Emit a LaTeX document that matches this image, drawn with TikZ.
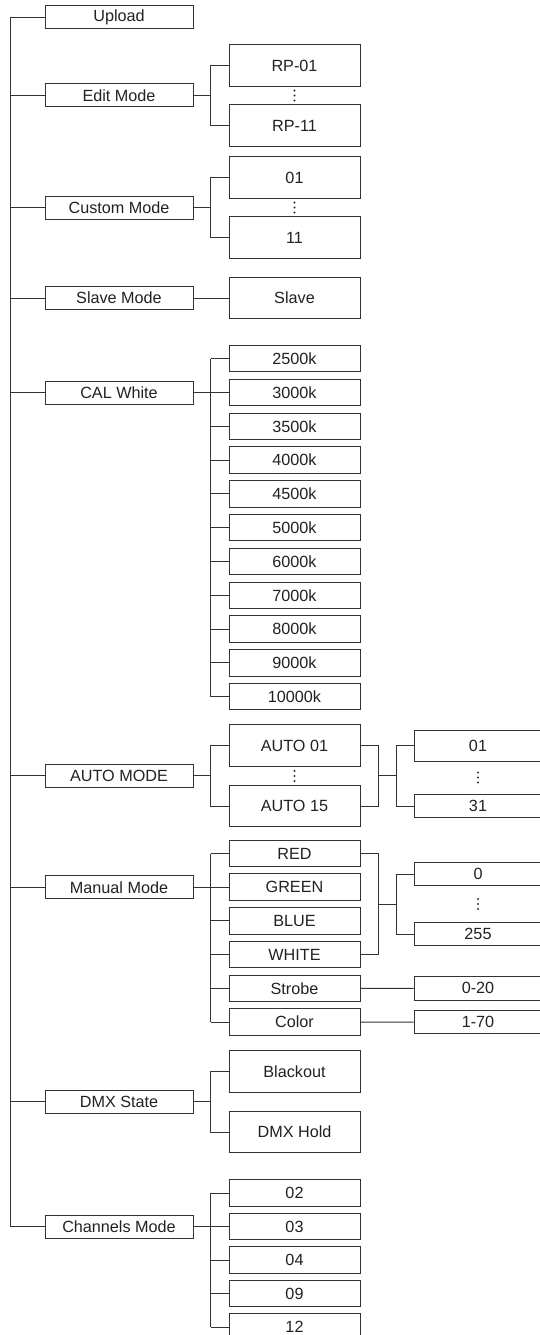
\documentclass[tikz,border=0pt]{standalone}
\usepackage{fontspec}
\setmainfont{Liberation Sans}
\usetikzlibrary{calc}
\definecolor{ln}{HTML}{333333}
\definecolor{tx}{HTML}{222222}
\begin{document}
\begin{tikzpicture}[x=1pt,y=-1pt,
  line width=1pt, color=ln,
  boxbase/.style={draw=ln, fill=white, rectangle, inner sep=0pt, text=tx,
    font=\fontsize{16.2}{18}\selectfont},
  lone/.style={boxbase, minimum width=148pt, minimum height=23pt},
  ltwo/.style={boxbase, minimum width=131pt, minimum height=26.5pt},
  ltwobig/.style={boxbase, minimum width=131pt, minimum height=41.5pt},
  lthree/.style={boxbase, minimum width=128pt, minimum height=23.5pt},
  lthreebig/.style={boxbase, minimum width=128pt, minimum height=31.5pt}]
\useasboundingbox (0,0) rectangle (540,1335);
\clip (0,0) rectangle (540,1335);

% level 1
\node[lone] (upload) at (119,17.5) {Upload};
\node[lone] (edit) at (119,95.5) {Edit Mode};
\node[lone] (custom) at (119,207.5) {Custom Mode};
\node[lone] (slavem) at (119,298) {Slave Mode};
\node[lone] (cal) at (119,392.5) {CAL White};
\node[lone] (auto) at (119,775.8) {AUTO MODE};
\node[lone] (manual) at (119,887.2) {Manual Mode};
\node[lone] (dmx) at (119,1101.7) {DMX State};
\node[lone] (chan) at (119,1226.5) {Channels Mode};

\coordinate (sp) at (10,0);
\coordinate (bx) at (210.5,0);
\coordinate (rx) at (378.5,0);
\coordinate (qx) at (396,0);

\draw (sp |- upload.west) -- (sp |- chan.west);
\foreach \n in {upload,edit,custom,slavem,cal,auto,manual,dmx,chan}
  \draw (sp |- \n.west) -- (\n.west);

% Edit mode
\node[ltwobig] (rp01) at (294.5,65.5) {RP-01};
\node[ltwobig] (rp11) at (294.5,125.5) {RP-11};
\draw (edit.east) -- (bx |- edit.east);
\draw (rp01.west) -| (bx |- rp11.west) -- (rp11.west);

% Custom mode
\node[ltwobig] (c01) at (294.5,177.5) {01};
\node[ltwobig] (c11) at (294.5,237.5) {11};
\draw (custom.east) -- (bx |- custom.east);
\draw (c01.west) -| (bx |- c11.west) -- (c11.west);

% Slave
\node[ltwobig] (slave) at (294.5,298) {Slave};
\draw (slavem.east) -- (slave.west);

% CAL White
\foreach \i/\t in {0/2500k,1/3000k,2/3500k,3/4000k,4/4500k,5/5000k,6/6000k,7/7000k,8/8000k,9/9000k,10/10000k}
  \node[ltwo] (k\i) at (294.5,{358.7+33.8*\i}) {\t};
\draw (cal.east) -- (bx |- cal.east);
\draw (bx |- k0.west) -- (bx |- k10.west);
\foreach \i in {0,...,10}
  \draw (bx |- k\i.west) -- (k\i.west);

% AUTO MODE
\node[ltwobig] (a01) at (294.5,745.7) {AUTO 01};
\node[ltwobig] (a15) at (294.5,806) {AUTO 15};
\draw (auto.east) -- (bx |- auto.east);
\draw (a01.west) -| (bx |- a15.west) -- (a15.west);
\draw (a01.east) -| (rx |- a15.east) -- (a15.east);
\coordinate (am) at ($(a01.east)!.5!(a15.east)$);
\draw (rx |- am) -- (qx |- am);
\node[lthreebig] (o01) at (478,745.8) {01};
\node[lthree] (o31) at (478,806) {31};
\draw (o01.west) -| (qx |- o31.west) -- (o31.west);

% Manual Mode
\foreach \i/\n/\t in {0/red/RED,1/green/GREEN,2/blue/BLUE,3/white/WHITE,4/strobe/Strobe,5/color/Color}
  \node[ltwo] (\n) at (294.5,{853.5+33.7*\i}) {\t};
\draw (manual.east) -- (bx |- manual.east);
\draw (bx |- red.west) -- (bx |- color.west);
\foreach \n in {red,green,blue,white,strobe,color}
  \draw (bx |- \n.west) -- (\n.west);
\draw (red.east) -| (rx |- white.east) -- (white.east);
\coordinate (mm) at ($(red.east)!.5!(white.east)$);
\draw (rx |- mm) -- (qx |- mm);
\node[lthree] (v0) at (478,874) {0};
\node[lthree] (v255) at (478,934) {255};
\draw (v0.west) -| (qx |- v255.west) -- (v255.west);
\node[lthree] (s020) at (478,988.3) {0-20};
\node[lthree] (c170) at (478,1022) {1-70};
\draw (strobe.east) -- (s020.west);
\draw (color.east) -- (c170.west);

% DMX State
\node[ltwobig] (black) at (294.5,1071.5) {Blackout};
\node[ltwobig] (hold) at (294.5,1132) {DMX Hold};
\draw (dmx.east) -- (bx |- dmx.east);
\draw (black.west) -| (bx |- hold.west) -- (hold.west);

% Channels Mode
\foreach \i/\t in {0/02,1/03,2/04,3/09,4/12}
  \node[ltwo] (ch\i) at (294.5,{1193+33.5*\i}) {\t};
\draw (chan.east) -- (bx |- chan.east);
\draw (bx |- ch0.west) -- (bx |- ch4.west);
\foreach \i in {0,...,4}
  \draw (bx |- ch\i.west) -- (ch\i.west);

% vertical ellipses
\foreach \x/\y in {294.5/95.5, 294.5/207.5, 294.5/776, 478/777.5, 478/904}
  \foreach \d in {-5,0,5}
    \fill[ln] (\x,{\y+(\d)}) circle (1.05pt);
\end{tikzpicture}
\end{document}
